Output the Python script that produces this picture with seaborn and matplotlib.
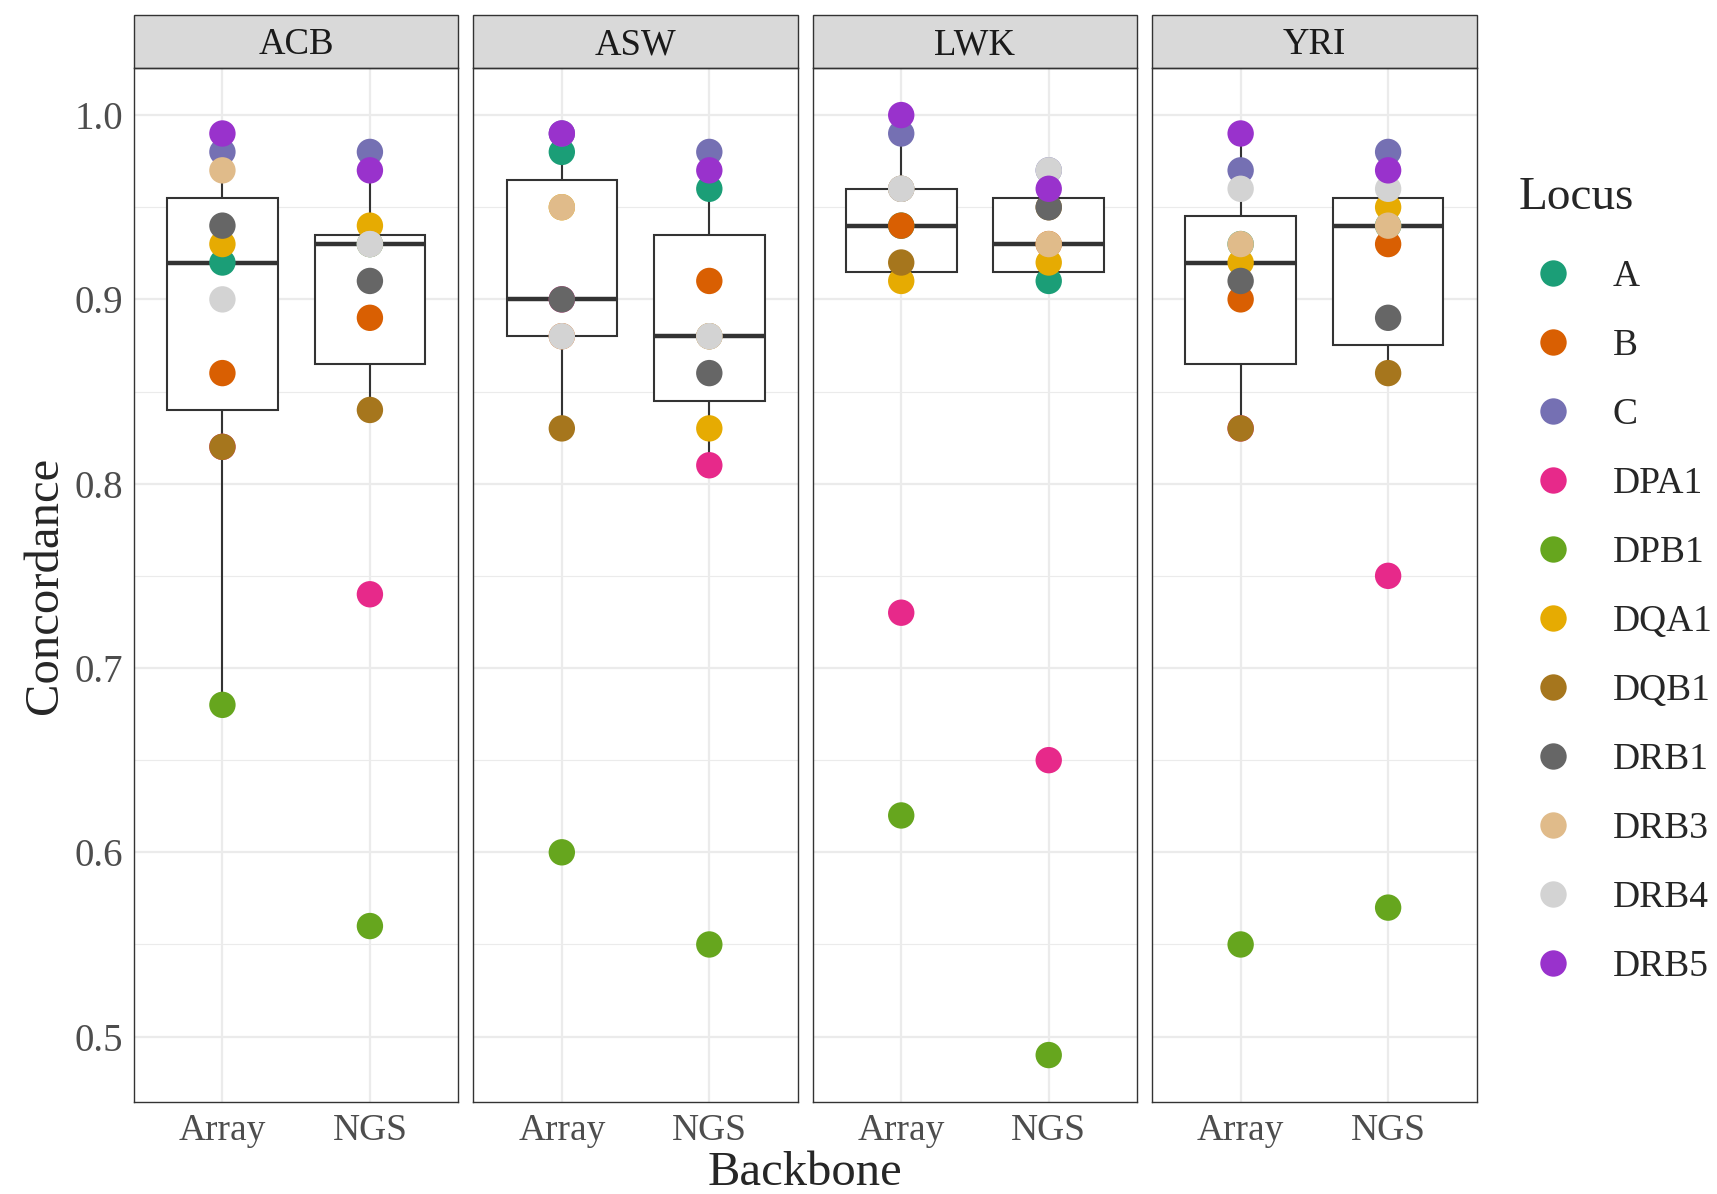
import matplotlib
matplotlib.use("Agg")
import matplotlib.pyplot as plt
from matplotlib.lines import Line2D
from matplotlib.patches import Rectangle
import pandas as pd
import seaborn as sns

# loci and their colours
loci = ["A", "B", "C", "DPA1", "DPB1", "DQA1", "DQB1", "DRB1", "DRB3", "DRB4", "DRB5"]
locus_colors = ["#1B9E77", "#D95F02", "#7570B3", "#E7298A", "#66A61E", "#E6AB02",
                "#A6761D", "#666666", "#E0BB8A", "#D3D3D3", "#9932CC"]

populations = ["ACB", "ASW", "LWK", "YRI"]
backbones = ["Array", "NGS"]

# concordance per locus (same order as loci)
acb_array = [0.92, 0.86, 0.98, 0.82, 0.68, 0.93, 0.82, 0.94, 0.97, 0.90, 0.99]
acb_ngs = [0.93, 0.89, 0.98, 0.74, 0.56, 0.94, 0.84, 0.91, 0.93, 0.93, 0.97]
asw_array = [0.98, 0.88, 0.99, 0.90, 0.60, 0.95, 0.83, 0.90, 0.95, 0.88, 0.99]
asw_ngs = [0.96, 0.91, 0.98, 0.81, 0.55, 0.83, 0.88, 0.86, 0.88, 0.88, 0.97]
lwk_array = [0.94, 0.94, 0.99, 0.73, 0.62, 0.91, 0.92, 0.96, 0.96, 0.96, 1.00]
lwk_ngs = [0.91, 0.93, 0.97, 0.65, 0.49, 0.92, 0.95, 0.95, 0.93, 0.97, 0.96]
yri_array = [0.93, 0.90, 0.97, 0.83, 0.55, 0.92, 0.83, 0.91, 0.93, 0.96, 0.99]
yri_ngs = [0.94, 0.93, 0.98, 0.75, 0.57, 0.95, 0.86, 0.89, 0.94, 0.96, 0.97]

series = {
    ("ACB", "Array"): acb_array, ("ACB", "NGS"): acb_ngs,
    ("ASW", "Array"): asw_array, ("ASW", "NGS"): asw_ngs,
    ("LWK", "Array"): lwk_array, ("LWK", "NGS"): lwk_ngs,
    ("YRI", "Array"): yri_array, ("YRI", "NGS"): yri_ngs,
}

rows = []
for (pop, bb), vals in series.items():
    for loc, v in zip(loci, vals):
        rows.append({"Population": pop, "Backbone": bb, "Locus": loc, "Concordance": v})
df = pd.DataFrame(rows)

sns.set_style("white")
plt.rcParams["font.family"] = ["Liberation Serif", "DejaVu Serif"]

palette = dict(zip(loci, locus_colors))
fig, axes = plt.subplots(1, 4, figsize=(17.17, 11.94), dpi=100, sharey=True)
fig.subplots_adjust(left=0.078, right=0.860, top=0.943, bottom=0.077, wspace=0.046)

for ax, pop in zip(axes, populations):
    sub = df[df["Population"] == pop]
    sns.boxplot(data=sub, x="Backbone", y="Concordance", order=backbones, ax=ax,
                color="white", linecolor="#333333", linewidth=1.5, width=0.75,
                showfliers=False, showcaps=False, medianprops={"linewidth": 3.2})
    sns.stripplot(data=sub, x="Backbone", y="Concordance", order=backbones, ax=ax,
                  hue="Locus", hue_order=loci, palette=palette, jitter=False,
                  size=19, linewidth=0, legend=False, zorder=3)
    ax.set_xlim(-0.6, 1.6)
    ax.set_ylim(0.4645, 1.0255)
    ax.set_yticks([0.5, 0.6, 0.7, 0.8, 0.9, 1.0])
    ax.set_yticks([0.55, 0.65, 0.75, 0.85, 0.95], minor=True)
    ax.set_yticklabels(["0.5", "0.6", "0.7", "0.8", "0.9", "1.0"])
    ax.set_axisbelow(True)
    ax.grid(True, which="major", color="#EBEBEB", linewidth=1.6)
    ax.grid(True, which="minor", axis="y", color="#EBEBEB", linewidth=0.8)
    for s in ax.spines.values():
        s.set_visible(True)
        s.set_color("#333333")
        s.set_linewidth(1.0)
    ax.tick_params(axis="both", which="major", direction="out", length=4, width=1,
                   color="#333333", labelcolor="#4D4D4D", labelsize=27, pad=4)
    ax.tick_params(axis="y", which="minor", length=0)
    ax.set_xlabel("")
    ax.set_ylabel("")
    # facet strip
    strip = Rectangle((0, 1), 1, 0.0513, transform=ax.transAxes, clip_on=False,
                      facecolor="#D9D9D9", edgecolor="#333333", linewidth=1.0)
    ax.add_patch(strip)
    ax.text(0.5, 1.0224, pop, transform=ax.transAxes, ha="center", va="center",
            fontsize=26.5, color="#1A1A1A")

axes[0].tick_params(axis="y", labelsize=28)
for ax in axes[1:]:
    ax.tick_params(axis="y", which="both", left=False, labelleft=False)

fig.text(0.469, 0.018, "Backbone", ha="center", va="center", fontsize=35)
fig.text(0.026, 0.51, "Concordance", ha="center", va="center", rotation=90, fontsize=35)

# legend, title placed on its own
fig.text(0.8847, 0.834, "Locus", ha="left", va="center", fontsize=34)
handles = [Line2D([], [], linestyle="", marker="o", markersize=19,
                  markerfacecolor=c, markeredgewidth=0) for c in locus_colors]
leg = fig.legend(handles, loci, loc="upper left", bbox_to_anchor=(0.885, 0.7826),
                 frameon=False, fontsize=27,
                 labelspacing=0.92, handlelength=1.8, handletextpad=0.68,
                 borderpad=0, borderaxespad=0)

fig.savefig("out.png", dpi=100)
